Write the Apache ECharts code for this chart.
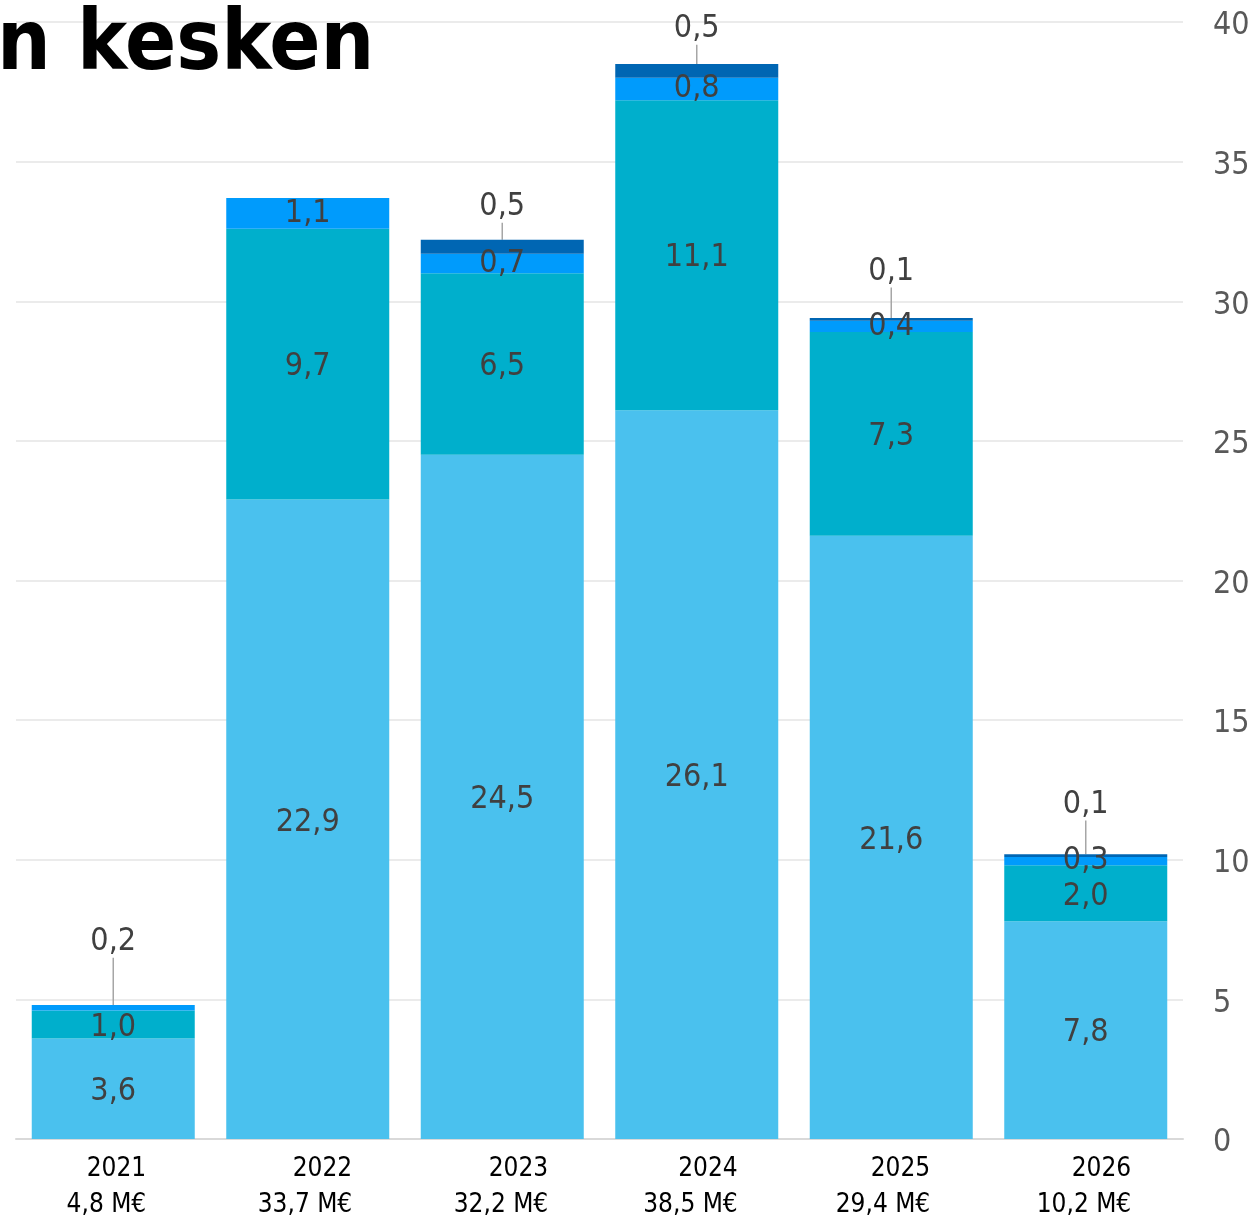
<!DOCTYPE html>
<html><head><meta charset="utf-8">
<script src="https://cdn.jsdelivr.net/npm/echarts@6/dist/echarts.min.js"></script>
<style>html,body{margin:0;padding:0;background:#fff}#c{width:1253px;height:1220px}</style>
</head><body><div id="c"></div>
<script>
var years = ['2021','2022','2023','2024','2025','2026'];
var totals = ['4,8 M€','33,7 M€','32,2 M€','38,5 M€','29,4 M€','10,2 M€'];
var s1 = [3.6, 22.9, 24.5, 26.1, 21.6, 7.8];
var s2 = [1.0, 9.7, 6.5, 11.1, 7.3, 2.0];
var s3 = [0.2, 1.1, 0.7, 0.8, 0.4, 0.3];
var s4 = [0, 0, 0.5, 0.5, 0.1, 0.1];
var yTicks = [0, 5, 10, 15, 20, 25, 30, 35, 40];

var FONT = '"DejaVu Sans Condensed", "DejaVu Sans", sans-serif';
function fmt(v){ return v.toFixed(1).replace('.', ','); }
function lbl(p){ return (p.value === null || p.value === undefined || p.value === '-') ? '' : fmt(p.value); }
var labelBase = { show: true, position: 'inside', offset: [0, 3], color: '#404040', fontSize: 32, fontFamily: FONT, formatter: lbl };

// per-category label box width (layout only)
var xW = [66, 89, 92, 82, 78, 91];
var rich = {};
xW.forEach(function(w, i){
  rich['a' + i] = { width: w, align: 'right', fontSize: 26, fontFamily: FONT, color: '#000', lineHeight: 36 };
});

var chart = echarts.init(document.getElementById('c'), null, {renderer: 'canvas'});
chart.setOption({
  animation: false,
  backgroundColor: '#fff',
  title: { text: 'n kesken', left: -8, top: 0, textStyle: { fontSize: 84, fontWeight: 'bold', color: '#000', fontFamily: FONT } },
  grid: { left: 16, right: 70, top: 22, bottom: 81, containLabel: false, outerBoundsMode: 'none' },
  xAxis: {
    type: 'category', data: years,
    axisLine: { show: true, lineStyle: { color: '#d9d9d9', width: 2 } },
    axisTick: { show: false },
    axisLabel: {
      margin: 12, interval: 0, color: '#000', fontSize: 26, fontFamily: FONT, lineHeight: 36,
      formatter: function(v, i){ return '{a' + i + '|' + v + '}\n{a' + i + '|' + totals[i] + '}'; },
      rich: rich
    }
  },
  yAxis: {
    type: 'value', position: 'right', min: 0, max: 40, interval: 5,
    axisLine: { show: false }, axisTick: { show: false },
    splitLine: { lineStyle: { color: '#ebebeb', width: 2 } },
    axisLabel: { margin: 30, color: '#595959', fontSize: 32, fontFamily: FONT, verticalAlign: 'top', lineHeight: 8,
      formatter: function(v){ return yTicks.indexOf(v) >= 0 ? String(v) : ''; } }
  },
  series: [
    { type: 'bar', stack: 't', barWidth: 163, data: s1, itemStyle: { color: '#4AC1EE' }, label: labelBase },
    { type: 'bar', stack: 't', barWidth: 163, data: s2, itemStyle: { color: '#00AFCC' }, label: labelBase },
    { type: 'bar', stack: 't', barWidth: 163, data: s3, itemStyle: { color: '#009BFC' },
      label: Object.assign({}, labelBase),
      labelLayout: function(p){ return p.dataIndex === 0 ? { dy: -66 } : {}; },
      labelLine: { show: true, lineStyle: { color: '#a6a6a6', width: 1.5 } } },
    { type: 'bar', stack: 't', barWidth: 163, data: s4.map(function(v){ return v === 0 ? '-' : v; }), itemStyle: { color: '#0066B3' },
      label: Object.assign({}, labelBase),
      labelLayout: function(p){ var d = {2: -40, 3: -42, 4: -48, 5: -51}; return { dy: d[p.dataIndex] || -40 }; },
      labelLine: { show: true, lineStyle: { color: '#a6a6a6', width: 1.5 } } }
  ]
});
</script></body></html>
